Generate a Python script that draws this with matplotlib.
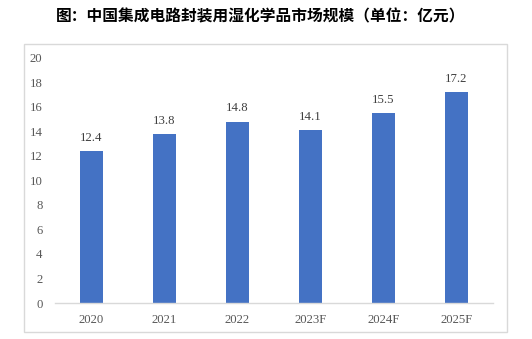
import matplotlib
matplotlib.use("Agg")
import matplotlib.pyplot as plt
from matplotlib.patches import Rectangle

years = ["2020", "2021", "2022", "2023F", "2024F", "2025F"]
values = [12.4, 13.8, 14.8, 14.1, 15.5, 17.2]
yticks = [0, 2, 4, 6, 8, 10, 12, 14, 16, 18, 20]
title = "图：中国集成电路封装用湿化学品市场规模（单位：亿元）"

W, H = 532, 339
fig = plt.figure(figsize=(W / 100, H / 100), dpi=100)

# outer frame around the chart area
fig.patches.append(Rectangle((24 / W, 1 - 332 / H), (507 - 24) / W, (332 - 44) / H,
                             transform=fig.transFigure, fill=False,
                             edgecolor="#d9d9d9", linewidth=1.0))

fig.text(0.5 - 5 / W, 1 - 16 / H, title, ha="center", va="center",
         fontsize=11.3, fontweight="bold",
         family=["Noto Sans CJK SC", "DejaVu Sans"], color="#000000")

ax = fig.add_axes([55 / W, 1 - 303 / H, (493 - 55) / W, (303 - 58) / H])
x = range(len(years))
bars = ax.bar(x, values, width=0.32, color="#4472C4", zorder=2)
for xi, v in zip(x, values):
    ax.text(xi, v + 0.6, f"{v}", ha="center", va="bottom",
            fontsize=9.2, family="Liberation Serif", color="#404040")

ax.set_xlim(-0.5, len(years) - 0.5)
ax.set_ylim(0, 20)
ax.set_yticks(yticks)
ax.set_xticks(list(x))
ax.set_xticklabels(years)
for lab in ax.get_xticklabels() + ax.get_yticklabels():
    lab.set_fontfamily("Liberation Serif")
    lab.set_fontsize(9.2)
    lab.set_color("#595959")
ax.tick_params(length=0, pad=8)
ax.tick_params(axis="y", pad=9)
for s in ["top", "right", "left"]:
    ax.spines[s].set_visible(False)
ax.spines["bottom"].set_color("#d9d9d9")
ax.spines["bottom"].set_linewidth(1.0)
ax.set_facecolor("none")

fig.savefig("out.png", dpi=100)
